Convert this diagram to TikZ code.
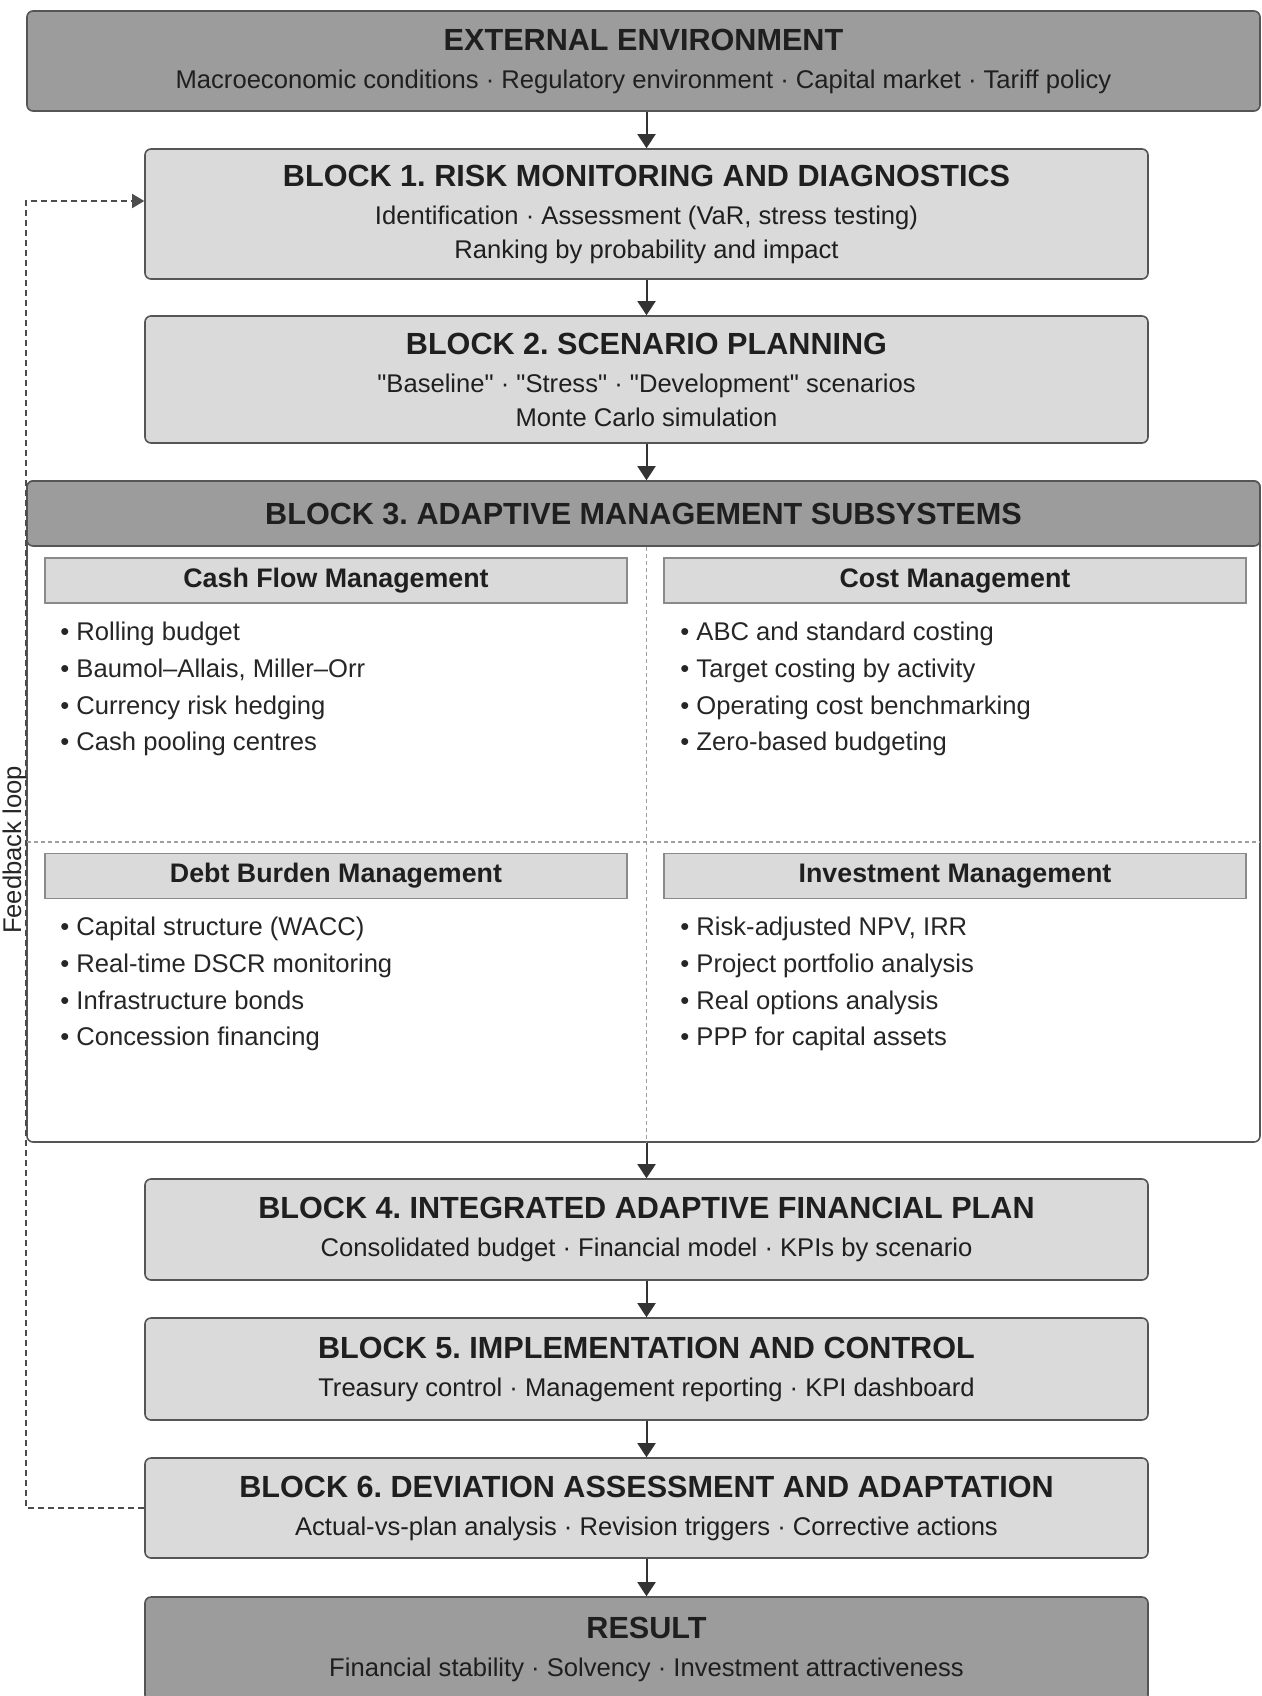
\documentclass[tikz,border=0pt]{standalone}
\usepackage{fontspec}
\setmainfont{Liberation Sans}
\usetikzlibrary{arrows.meta,positioning,calc}
\definecolor{darkfill}{HTML}{9C9C9C}
\definecolor{lightfill}{HTML}{DADADA}
\definecolor{edgegray}{HTML}{555555}
\definecolor{subedge}{HTML}{8A8A8A}
\definecolor{inkgray}{HTML}{333333}
\newcommand{\hdfnt}{\fontsize{15.3}{19}\selectfont\bfseries}
\newcommand{\bodyfnt}{\fontsize{12.8}{17}\selectfont}
\newcommand{\subfnt}{\fontsize{13.4}{16}\selectfont\bfseries}
\newcommand{\listfnt}{\fontsize{12.8}{18.3}\selectfont}
\frenchspacing

\tikzset{
  blockbox/.style={draw=edgegray, line width=0.8pt, fill=lightfill, rounded corners=3pt,
    minimum width=501.5pt, align=center, font=\bodyfnt, text=black!88, inner sep=0pt},
  darkbox/.style={blockbox, fill=darkfill},
  subhead/.style={draw=subedge, fill=lightfill, line width=0.8pt, minimum width=291pt,
    minimum height=22.5pt, font=\subfnt, text=black!88, inner sep=0pt},
  listbox/.style={anchor=north west, align=left, font=\listfnt, text=black!85, inner sep=0pt},
  arr/.style={-{Triangle[width=9pt,length=7pt]}, line width=1pt, draw=inkgray},
  fbline/.style={dash pattern=on 3pt off 2pt, draw=edgegray!90!black, line width=0.8pt},
  divider/.style={draw=gray!75, dash pattern=on 2pt off 1.5pt, line width=0.6pt}
}

\begin{document}
\begin{tikzpicture}[x=0.5pt, y=-0.5pt]
    \useasboundingbox (0,0) rectangle (1262,1696);

    % main column
    \node[darkbox, minimum width=616.5pt, minimum height=50pt] (ext) at (643.5,61)
        {{\hdfnt EXTERNAL ENVIRONMENT}\\[2pt]
         Macroeconomic conditions · Regulatory environment · Capital market · Tariff policy};
    \node[blockbox, minimum height=65pt] (b1) at (646.5,214)
        {{\hdfnt BLOCK 1. RISK MONITORING AND DIAGNOSTICS}\\[2pt]
         Identification · Assessment (VaR, stress testing)\\
         Ranking by probability and impact};
    \node[blockbox, minimum height=63.5pt] (b2) at (646.5,379.5)
        {{\hdfnt BLOCK 2. SCENARIO PLANNING}\\[2pt]
         \textquotedbl Baseline\textquotedbl{} · \textquotedbl Stress\textquotedbl{} · \textquotedbl Development\textquotedbl{} scenarios\\
         Monte Carlo simulation};

    % block 3 with four subsystems
    \node[blockbox, fill=white, minimum width=616.5pt, minimum height=330.5pt] (b3) at (643.5,811.5) {};
    \node[darkbox, minimum width=616.5pt, minimum height=32.5pt] (b3head) at (643.5,513.5)
        {\hdfnt BLOCK 3. ADAPTIVE MANAGEMENT SUBSYSTEMS};
    \draw[divider] (b3head.south -| b2.south) -- (b3.south -| b2.south);
    \draw[divider] (27,842) -- (1260,842);

    \node[subhead] (cfHead) at (336,580.5) {Cash Flow Management};
    \node[subhead] (costHead) at (955,580.5) {Cost Management};
    \node[subhead] (debtHead) at (336,876) {Debt Burden Management};
    \node[subhead] (invHead) at (955,876) {Investment Management};

    \node[listbox] (cfList) at (60,622)
        {• Rolling budget\\ • Baumol--Allais, Miller--Orr\\ • Currency risk hedging\\ • Cash pooling centres};
    \node[listbox] (costList) at (680,622)
        {• ABC and standard costing\\ • Target costing by activity\\ • Operating cost benchmarking\\ • Zero-based budgeting};
    \node[listbox] (debtList) at (60,917)
        {• Capital structure (WACC)\\ • Real-time DSCR monitoring\\ • Infrastructure bonds\\ • Concession financing};
    \node[listbox] (invList) at (680,917)
        {• Risk-adjusted NPV, IRR\\ • Project portfolio analysis\\ • Real options analysis\\ • PPP for capital assets};

    \node[blockbox, minimum height=50.5pt] (b4) at (646.5,1229.5)
        {{\hdfnt BLOCK 4. INTEGRATED ADAPTIVE FINANCIAL PLAN}\\[2pt]
         Consolidated budget · Financial model · KPIs by scenario};
    \node[blockbox, minimum height=51pt] (b5) at (646.5,1369)
        {{\hdfnt BLOCK 5. IMPLEMENTATION AND CONTROL}\\[2pt]
         Treasury control · Management reporting · KPI dashboard};
    \node[blockbox, minimum height=50pt] (b6) at (646.5,1508)
        {{\hdfnt BLOCK 6. DEVIATION ASSESSMENT AND ADAPTATION}\\[2pt]
         Actual-vs-plan analysis · Revision triggers · Corrective actions};
    \node[darkbox, minimum height=52pt] (res) at (646.5,1649)
        {{\hdfnt RESULT}\\[2pt]
         Financial stability · Solvency · Investment attractiveness};

    % flow arrows
    \draw[arr] (ext.south -| b1.north) -- (b1.north);
    \draw[arr] (b1) -- (b2);
    \draw[arr] (b2.south) -- (b3.north -| b2.south);
    \draw[arr] (b3.south -| b4.north) -- (b4.north);
    \draw[arr] (b4) -- (b5);
    \draw[arr] (b5) -- (b6);
    \draw[arr] (b6) -- (res);

    % feedback loop
    \draw[fbline, -{Triangle[width=7pt,length=6pt]}]
        (b6.west) -- (b6.west -| ext.west) |- ([yshift=6.5pt]b1.west);
    \node[rotate=90, anchor=base, font=\bodyfnt, text=black!85] (fbLabel) at (21,850) {Feedback loop};
\end{tikzpicture}
\end{document}
